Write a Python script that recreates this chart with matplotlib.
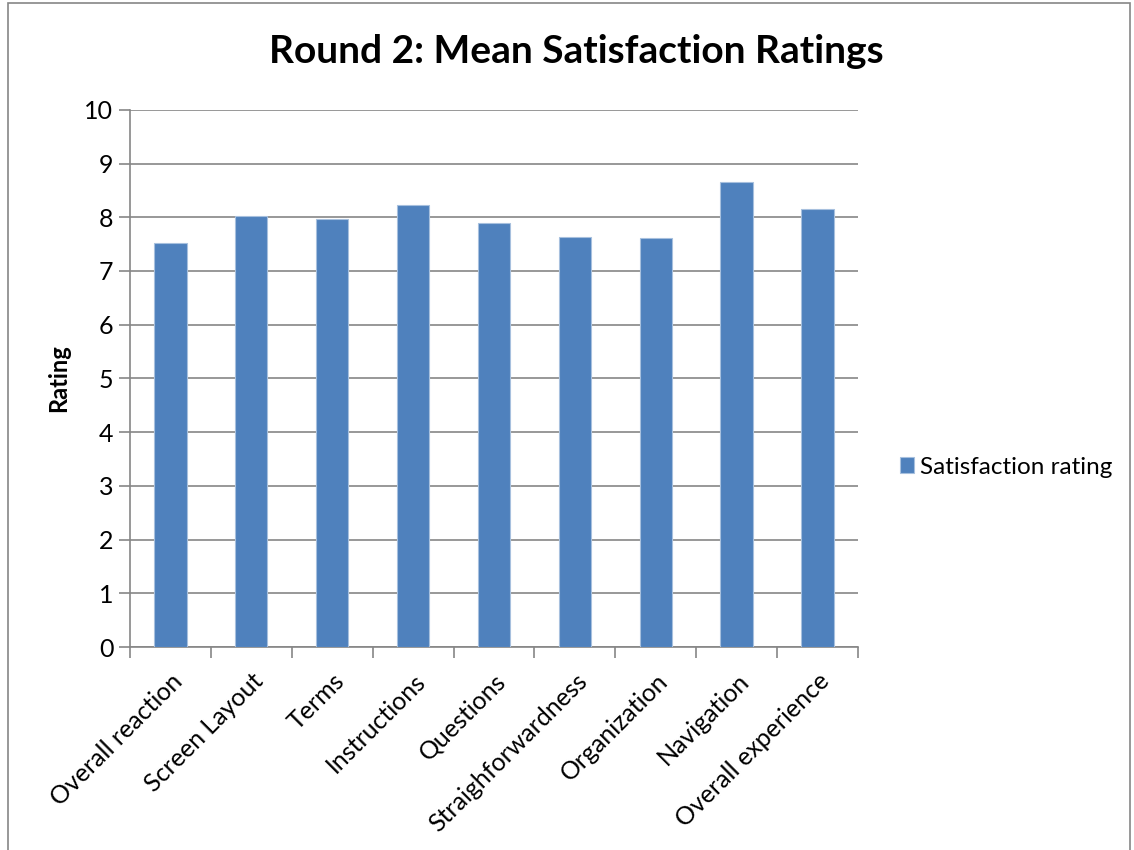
import matplotlib.pyplot as plt
import matplotlib.patches as mpatches
import numpy as np

plt.rcParams['font.family'] = ['Lato', 'DejaVu Sans']

categories = ['Overall reaction', 'Screen Layout', 'Terms', 'Instructions', 'Questions',
              'Straighforwardness', 'Organization', 'Navigation', 'Overall experience']
ratings = [7.53, 8.03, 7.96, 8.22, 7.90, 7.63, 7.61, 8.65, 8.16]

bar_color = '#4F81BD'
grid_color = '#868686'

fig = plt.figure(figsize=(11.34, 8.5), dpi=100)
ax = fig.add_axes([0.1146, 0.2388, 0.642, 0.632])

x = np.arange(len(categories))
ax.bar(x, ratings, width=0.4, color=bar_color, edgecolor='#A7C0DE', linewidth=0.8,
       label='Satisfaction rating', zorder=3)

ax.set_xlim(-0.5, len(categories) - 0.5)
ax.set_ylim(0, 10)
ax.set_yticks(range(0, 11))
ax.yaxis.grid(True, color=grid_color, linewidth=1.2, zorder=0)

ax.set_xticks(x)
ax.set_xticklabels(categories, rotation=45, ha='right', rotation_mode='anchor', fontsize=18)
ax.set_xticks(np.arange(-0.5, len(categories)), minor=True)
ax.tick_params(axis='x', which='major', length=0, pad=16)
ax.tick_params(axis='x', which='minor', length=8, width=1.2, color=grid_color, direction='out')
ax.tick_params(axis='y', length=8, width=1.2, color=grid_color, labelsize=18, pad=4)

for side in ['top', 'right']:
    ax.spines[side].set_visible(False)
for side in ['left', 'bottom']:
    ax.spines[side].set_color(grid_color)
    ax.spines[side].set_linewidth(1.2)

ax.set_ylabel('Rating', fontsize=17, fontweight='bold', labelpad=10)
fig.text(0.508, 0.939, 'Round 2: Mean Satisfaction Ratings', fontsize=28, fontweight='bold',
         ha='center', va='center')

leg = ax.legend(loc='center left', bbox_to_anchor=(1.027, 0.335), frameon=False,
                fontsize=17.5, handlelength=0.6, handleheight=0.6, handletextpad=0.25)

# outer chart border
fig.patches.append(mpatches.Rectangle((8 / 1134, -0.01), 1122 / 1134, 1 - 3 / 850 + 0.01,
                                      transform=fig.transFigure, fill=False,
                                      edgecolor='#868686', linewidth=1.2))

fig.savefig('out.png', dpi=100)
